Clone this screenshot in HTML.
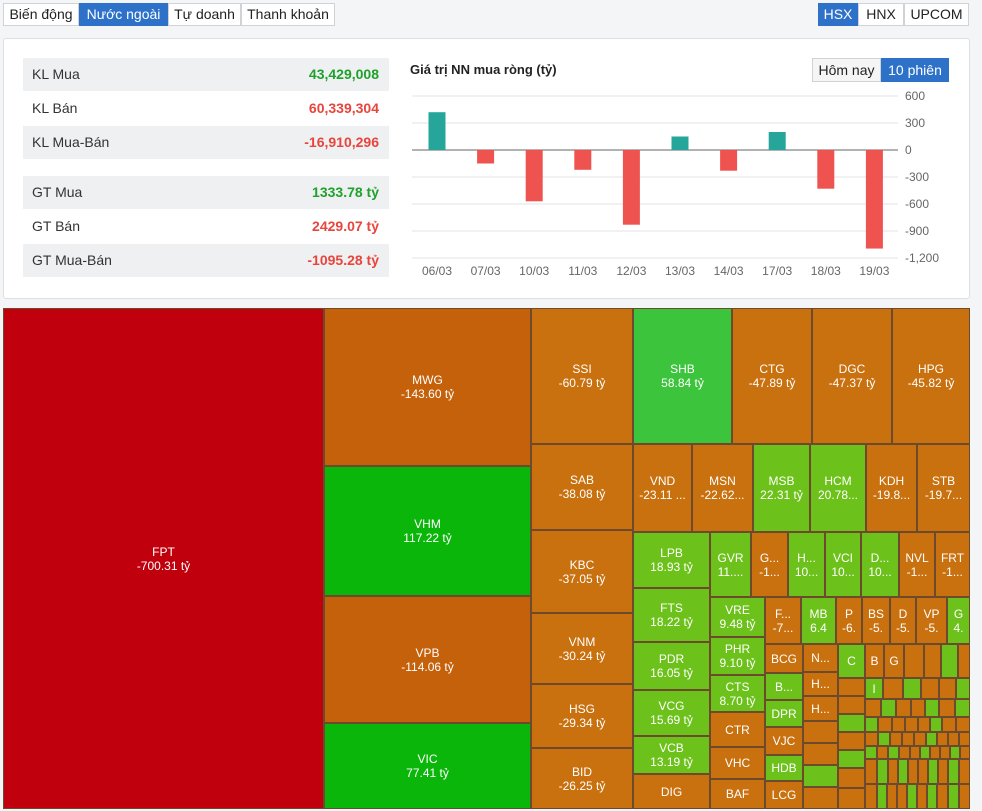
<!DOCTYPE html>
<html><head><meta charset="utf-8">
<style>
body{margin:0;width:982px;height:811px;background:#f4f5f7;font-family:"Liberation Sans",sans-serif;position:relative;overflow:hidden}
.abs{position:absolute;box-sizing:border-box}
.tab{position:absolute;top:3px;height:23px;border:1px solid #cfd3d8;background:#fff;font-size:14px;color:#222;text-align:center;line-height:21px;box-sizing:border-box}
.tab.on{background:#2d72c8;color:#fff;border-color:#2d72c8}
.row{position:absolute;left:23px;width:366px;height:33px;font-size:14px;color:#333;line-height:33px}
.row.g{background:#eef0f2}
.row span{position:absolute;left:9px}
.row b{position:absolute;right:10px;font-weight:bold}
.cell{position:absolute;box-sizing:border-box;border:1px solid #6b4a2e;color:#fff;font-size:12px;display:flex;align-items:center;justify-content:center;text-align:center;line-height:14px;overflow:hidden;font-family:"Liberation Sans",sans-serif}
</style></head><body>
<div class="tab" style="left:3px;width:76px">Biến động</div>
<div class="tab on" style="left:79px;width:89px">Nước ngoài</div>
<div class="tab" style="left:168px;width:73px">Tự doanh</div>
<div class="tab" style="left:241px;width:94px">Thanh khoản</div>
<div class="tab on" style="left:818px;width:40px">HSX</div>
<div class="tab" style="left:858px;width:46px">HNX</div>
<div class="tab" style="left:904px;width:65px">UPCOM</div>

<div class="abs" style="left:3px;top:38px;width:967px;height:261px;background:#fff;border:1px solid #dcdfe3;border-radius:3px"></div>
<div class="row g" style="top:58px"><span>KL Mua</span><b style="color:#1fa12a">43,429,008</b></div>
<div class="row" style="top:92px"><span>KL Bán</span><b style="color:#e8453c">60,339,304</b></div>
<div class="row g" style="top:126px"><span>KL Mua-Bán</span><b style="color:#e8453c">-16,910,296</b></div>
<div class="row g" style="top:176px"><span>GT Mua</span><b style="color:#1fa12a">1333.78 tỷ</b></div>
<div class="row" style="top:210px"><span>GT Bán</span><b style="color:#e8453c">2429.07 tỷ</b></div>
<div class="row g" style="top:244px"><span>GT Mua-Bán</span><b style="color:#e8453c">-1095.28 tỷ</b></div>

<div class="abs" style="left:410px;top:62px;font-size:13px;font-weight:bold;color:#222">Giá trị NN mua ròng (tỷ)</div>
<div class="tab" style="left:812px;top:58px;width:69px;height:24px;line-height:22px;background:#f5f5f5">Hôm nay</div>
<div class="tab on" style="left:881px;top:58px;width:68px;height:24px;line-height:22px">10 phiên</div>

<svg class="abs" style="left:0;top:0" width="982" height="300" id="chart"></svg>

<div class="abs" id="tm" style="left:3px;top:308px;width:967px;height:501px;background:#c4610a"></div>

<script>
const categories=["06/03","07/03","10/03","11/03","12/03","13/03","14/03","17/03","18/03","19/03"];
const values=[420,-150,-570,-220,-830,150,-230,200,-430,-1095];
const ticks=[600,300,0,-300,-600,-900,-1200];
const tickLabels=["600","300","0","-300","-600","-900","-1,200"];
const NS="http://www.w3.org/2000/svg";
const svg=document.getElementById('chart');
function y(v){return 150-v*0.09;}
function x(i){return 437+i*48.6;}
function mk(t,a){const e=document.createElementNS(NS,t);for(const k in a)e.setAttribute(k,a[k]);svg.appendChild(e);return e;}
ticks.forEach((t,i)=>{
 const l=mk('line',{x1:412,x2:898,y1:y(t),y2:y(t),stroke:t===0?'#666':'#e3e3e3','stroke-width':1});
 
 
 const tx=mk('text',{x:905,y:y(t)+4,'font-size':12,fill:'#666','font-family':'Liberation Sans'});
 tx.textContent=tickLabels[i];
 
 
});
values.forEach((v,i)=>{
 const r=mk('rect',{x:x(i)-8.5,width:17,y:Math.min(y(v),y(0)),height:Math.abs(y(v)-y(0)),fill:v>=0?'#26a69a':'#ef5350'});
 
 
 const tx=mk('text',{x:x(i),y:275,'font-size':12,fill:'#666','text-anchor':'middle','font-family':'Liberation Sans'});
 tx.textContent=categories[i];
 
 
});

const O='#c4610a',O2='#c9700f',R='#c0000c',G='#0ab60a',G2='#3cc43c',L='#6cc21a';
const cells=[
[3,308,321,501,R,'FPT','-700.31 tỷ'],
[324,308,207,158,O,'MWG','-143.60 tỷ'],[324,466,207,130,G,'VHM','117.22 tỷ'],[324,596,207,127,O,'VPB','-114.06 tỷ'],[324,723,207,86,G,'VIC','77.41 tỷ'],
[531,308,102,136,O2,'SSI','-60.79 tỷ'],[531,444,102,86,O2,'SAB','-38.08 tỷ'],[531,530,102,83,O2,'KBC','-37.05 tỷ'],[531,613,102,71,O2,'VNM','-30.24 tỷ'],[531,684,102,64,O2,'HSG','-29.34 tỷ'],[531,748,102,61,O2,'BID','-26.25 tỷ'],
[633,308,99,136,G2,'SHB','58.84 tỷ'],[732,308,80,136,O2,'CTG','-47.89 tỷ'],[812,308,80,136,O2,'DGC','-47.37 tỷ'],[892,308,78,136,O2,'HPG','-45.82 tỷ'],
[633,444,59,88,O2,'VND','-23.11 ...'],[692,444,61,88,O2,'MSN','-22.62...'],[753,444,57,88,L,'MSB','22.31 tỷ'],[810,444,56,88,L,'HCM','20.78...'],[866,444,51,88,O2,'KDH','-19.8...'],[917,444,53,88,O2,'STB','-19.7...'],
[633,532,77,56,L,'LPB','18.93 tỷ'],[633,588,77,54,L,'FTS','18.22 tỷ'],[633,642,77,48,L,'PDR','16.05 tỷ'],[633,690,77,46,L,'VCG','15.69 tỷ'],[633,736,77,38,L,'VCB','13.19 tỷ'],[633,774,77,35,O2,'DIG',''],
[710,532,41,65,L,'GVR','11....'],[751,532,37,65,O2,'G...','-1...'],[788,532,37,65,L,'H...','10...'],[825,532,36,65,L,'VCI','10...'],[861,532,38,65,L,'D...','10...'],[899,532,36,65,O2,'NVL','-1...'],[935,532,35,65,O2,'FRT','-1...'],
[710,597,55,40,L,'VRE','9.48 tỷ'],[710,637,55,38,L,'PHR','9.10 tỷ'],[710,675,55,37,L,'CTS','8.70 tỷ'],[710,712,55,35,O2,'CTR',''],[710,747,55,32,O2,'VHC',''],[710,779,55,30,O2,'BAF',''],
[765,597,36,47,O2,'F...','-7...'],[801,597,35,47,L,'MB','6.4'],[836,597,26,47,O2,'P','-6.'],[862,597,28,47,O2,'BS','-5.'],[890,597,26,47,O2,'D','-5.'],[916,597,31,47,O2,'VP','-5.'],[947,597,23,47,L,'G','4.'],
[765,644,38,29,O2,'BCG',''],[765,673,38,27,L,'B...',''],[765,700,38,27,L,'DPR',''],[765,727,38,28,O2,'VJC',''],[765,755,38,26,L,'HDB',''],[765,781,38,28,O2,'LCG',''],
[803,644,35,28,O2,'N...',''],[803,672,35,24,O2,'H...',''],[803,696,35,25,O2,'H...',''],[803,721,35,22,O2,'',''],[803,743,35,22,O2,'',''],[803,765,35,22,L,'',''],[803,787,35,22,O2,'',''],
[838,644,27,34,L,'C',''],[865,644,19,34,O2,'B',''],[884,644,20,34,O2,'G',''],[904,644,20,34,O2,'',''],[924,644,17,34,O2,'',''],[941,644,17,34,L,'',''],[958,644,12,34,O2,'',''],
[838,678,27,18,O2,'',''],[838,696,27,18,O2,'',''],[838,714,27,18,L,'',''],[838,732,27,18,O2,'',''],[838,750,27,18,L,'',''],[838,768,27,20,O2,'',''],[838,788,27,21,O2,'',''],
[865,678,18,21,L,'I',''],[883,678,20,21,O2,'',''],[903,678,18,21,L,'',''],[921,678,18,21,O2,'',''],[939,678,17,21,O2,'',''],[956,678,14,21,L,'',''],
[865,699,16,18,O2,'',''],[881,699,15,18,L,'',''],[896,699,15,18,O2,'',''],[911,699,14,18,O2,'',''],[925,699,14,18,L,'',''],[939,699,16,18,O2,'',''],[955,699,15,18,L,'',''],
[865,717,13,15,L,'',''],[878,717,14,15,O2,'',''],[892,717,13,15,O2,'',''],[905,717,13,15,O2,'',''],[918,717,12,15,O2,'',''],[930,717,12,15,L,'',''],[942,717,14,15,O2,'',''],[956,717,14,15,O2,'',''],
[865,732,13,14,O2,'',''],[878,732,12,14,L,'',''],[890,732,12,14,O2,'',''],[902,732,12,14,O2,'',''],[914,732,12,14,O2,'',''],[926,732,11,14,L,'',''],[937,732,11,14,O2,'',''],[948,732,11,14,O2,'',''],[959,732,11,14,O2,'',''],
[865,746,12,13,L,'',''],[877,746,11,13,O2,'',''],[888,746,11,13,L,'',''],[899,746,11,13,O2,'',''],[910,746,10,13,O2,'',''],[920,746,10,13,L,'',''],[930,746,10,13,O2,'',''],[940,746,10,13,O2,'',''],[950,746,10,13,L,'',''],[960,746,10,13,O2,'',''],
[865,759,12,25,O2,'',''],[877,759,11,25,L,'',''],[888,759,10,25,O2,'',''],[898,759,10,25,L,'',''],[908,759,10,25,O2,'',''],[918,759,10,25,O2,'',''],[928,759,10,25,L,'',''],[938,759,10,25,O2,'',''],[948,759,11,25,L,'',''],[959,759,11,25,O2,'',''],
[865,784,12,25,O2,'',''],[877,784,10,25,L,'',''],[887,784,10,25,O2,'',''],[897,784,10,25,O2,'',''],[907,784,10,25,L,'',''],[917,784,10,25,O2,'',''],[927,784,10,25,L,'',''],[937,784,11,25,O2,'',''],[948,784,11,25,L,'',''],[959,784,11,25,O2,'','']
];
const tm=document.body;
cells.forEach(c=>{
 const d=document.createElement('div');
 d.className='cell';
 d.style.cssText=`left:${c[0]}px;top:${c[1]}px;width:${c[2]}px;height:${c[3]}px;background:${c[4]}`;
 d.innerHTML=c[5]+(c[6]?'<br>'+c[6]:'');
 
 
 tm.appendChild(d);
});
</script>
</body></html>
